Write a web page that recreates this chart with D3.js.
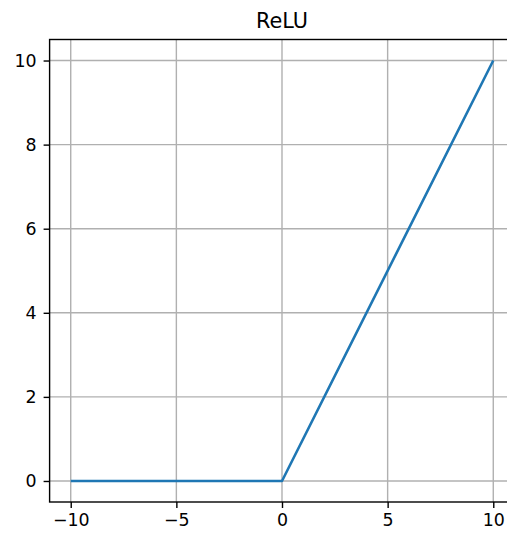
<!DOCTYPE html>
<html>
<head>
<meta charset="utf-8">
<script src="https://cdn.jsdelivr.net/npm/d3@7"></script>
<style>
  body { margin: 0; background: #fff; }
  svg { display: block; font-family: "DejaVu Sans", sans-serif; }
</style>
</head>
<body>
<div id="chart"></div>
<script>
// ReLU data
const xValues = [-10, 0, 10];
const yValues = [0, 0, 10];
const xTicks = [-10, -5, 0, 5, 10];
const yTicks = [0, 2, 4, 6, 8, 10];
const title = "ReLU";

const width = 507, height = 536;
const plot = {left: 49.6, right: 514.4, top: 39.5, bottom: 502};

const svg = d3.select("#chart").append("svg")
    .attr("width", width)
    .attr("height", height);

const x = d3.scaleLinear().domain([-11, 11]).range([plot.left, plot.right]);
const y = d3.scaleLinear().domain([-0.5, 10.5]).range([plot.bottom, plot.top]);

const fmt = d => d < 0 ? "\u2212" + Math.abs(d) : String(d);

// grid
svg.append("g").selectAll("line")
    .data(xTicks).enter().append("line")
    .attr("x1", d => x(d)).attr("x2", d => x(d))
    .attr("y1", plot.top).attr("y2", plot.bottom)
    .style("stroke", "#b0b0b0").style("stroke-width", 1.4);

svg.append("g").selectAll("line")
    .data(yTicks).enter().append("line")
    .attr("x1", plot.left).attr("x2", plot.right)
    .attr("y1", d => y(d)).attr("y2", d => y(d))
    .style("stroke", "#b0b0b0").style("stroke-width", 1.4);

// line
const pts = xValues.map((v, i) => [v, yValues[i]]);
svg.append("path")
    .datum(pts)
    .attr("d", d3.line().x(d => x(d[0])).y(d => y(d[1])))
    .style("fill", "none")
    .style("stroke", "#1f77b4")
    .style("stroke-width", 2.6)
    .style("stroke-linejoin", "round")
    .style("stroke-linecap", "butt");

// axes
const xAxis = svg.append("g")
    .attr("transform", `translate(0,${plot.bottom})`)
    .call(d3.axisBottom(x).tickValues(xTicks).tickFormat(fmt).tickSize(6).tickPadding(6));
const yAxis = svg.append("g")
    .attr("transform", `translate(${plot.left},0)`)
    .call(d3.axisLeft(y).tickValues(yTicks).tickFormat(fmt).tickSize(6).tickPadding(7));

[xAxis, yAxis].forEach(a => {
    a.select(".domain").remove();
    a.selectAll(".tick line").style("stroke", "#000").style("stroke-width", 1.4);
    a.selectAll(".tick text")
        .style("font-family", "DejaVu Sans, sans-serif")
        .style("font-size", "17.4px")
        .style("fill", "#000");
});

// spines
svg.append("rect")
    .attr("x", plot.left).attr("y", plot.top)
    .attr("width", plot.right - plot.left)
    .attr("height", plot.bottom - plot.top)
    .style("fill", "none")
    .style("stroke", "#000")
    .style("stroke-width", 1.4);

// title
svg.append("text")
    .attr("x", (plot.left + plot.right) / 2)
    .attr("y", 28.3)
    .attr("text-anchor", "middle")
    .style("font-size", "20.8px")
    .style("fill", "#000")
    .text(title);
</script>
</body>
</html>
